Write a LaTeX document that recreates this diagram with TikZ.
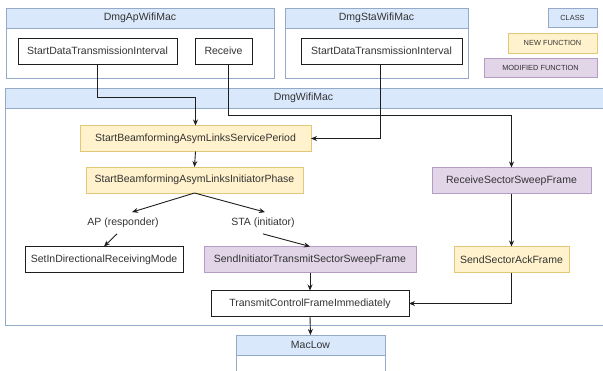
\documentclass[tikz,border=0pt]{standalone}
\usepackage{fontspec}
\setmainfont{Liberation Sans}
\usetikzlibrary{arrows.meta}
\definecolor{clsfill}{HTML}{DAE8FC}
\definecolor{clsline}{HTML}{94AAC8}
\definecolor{newfill}{HTML}{FFF2CC}
\definecolor{newline}{HTML}{E0C878}
\definecolor{modfill}{HTML}{E1D5E7}
\definecolor{modline}{HTML}{B59CC4}
\definecolor{txt}{HTML}{333333}
\definecolor{wire}{HTML}{1E1E1E}
\tikzset{
  base/.style={rectangle, inner sep=0pt, outer sep=0pt, text=txt, font=\fontsize{10.5}{12}\selectfont},
  container/.style={base, draw=clsline, fill=white, line width=0.8pt},
  header/.style={base, draw=clsline, fill=clsfill, line width=0.8pt},
  plainfn/.style={base, draw=wire, fill=white, line width=0.8pt, minimum height=26},
  newfn/.style={base, draw=newline, fill=newfill, line width=0.8pt, minimum height=26},
  modfn/.style={base, draw=modline, fill=modfill, line width=0.8pt, minimum height=26},
  legend/.style={base, line width=0.8pt, font=\fontsize{7.4}{9}\selectfont},
  lbl/.style={base, inner ysep=6pt},
  arr/.style={draw=wire, line width=0.9pt, -{Stealth[length=6pt,width=5pt]}},
  wirel/.style={draw=wire, line width=0.9pt}
}
\begin{document}
\begin{tikzpicture}[x=1pt, y=-1pt]
\useasboundingbox (0,0) rectangle (603,370);
\clip (0,0) rectangle (603,370);
\fill[white] (0,0) rectangle (603,370);
% containers
\node[container, minimum width=268, minimum height=70] (ap) at (140,43) {};
\node[header, minimum width=268, minimum height=20] (aph) at (140,18) {DmgApWifiMac};
\node[container, minimum width=183, minimum height=70] (sta) at (376.5,43) {};
\node[header, minimum width=183, minimum height=20] (stah) at (376.5,18) {DmgStaWifiMac};
\node[container, minimum width=607, minimum height=237] (wm) at (308.5,206.5) {};
\node[header, minimum width=607, minimum height=20] (wmh) at (308.5,98) {};
\node[base] (wmt) at (303.5,98) {DmgWifiMac};
\node[container, minimum width=149, minimum height=50] (ml) at (310.5,360) {};
\node[header, minimum width=149, minimum height=20] (mlh) at (310.5,345) {MacLow};
% legend
\node[legend, draw=clsline, fill=clsfill, minimum width=49, minimum height=19] (lc) at (572.5,17.5) {CLASS};
\node[legend, draw=newline, fill=newfill, minimum width=89, minimum height=20] (ln) at (552.5,43) {NEW FUNCTION};
\node[legend, draw=modline, fill=modfill, minimum width=113, minimum height=19] (lm) at (540.5,67.5) {MODIFIED FUNCTION};
% functions
\node[plainfn, minimum width=159] (apsdti) at (97.5,51) {StartDataTransmissionInterval};
\node[plainfn, minimum width=57] (recv) at (223.5,51) {Receive};
\node[plainfn, minimum width=161] (stasdti) at (381.5,51) {StartDataTransmissionInterval};
\node[newfn, minimum width=231] (sp) at (195.5,138.5) {StartBeamformingAsymLinksServicePeriod};
\node[newfn, minimum width=217] (ip) at (194.5,180) {StartBeamformingAsymLinksInitiatorPhase};
\node[modfn, minimum width=159] (rssf) at (511.5,180.5) {ReceiveSectorSweepFrame};
\node[lbl] (aplab) at (123,223) {AP (responder)};
\node[lbl] (stalab) at (263,223) {STA (initiator)};
\node[plainfn, minimum width=158] (sidrm) at (104,259.5) {SetInDirectionalReceivingMode};
\node[modfn, minimum width=212] (sitssf) at (310,259.5) {SendInitiatorTransmitSectorSweepFrame};
\node[newfn, minimum width=115] (ssaf) at (511.5,259.5) {SendSectorAckFrame};
\node[plainfn, minimum width=198] (tc) at (310,303.5) {TransmitControlFrameImmediately};
% connectors
\draw[arr] (apsdti.south) -- (apsdti.south |- 0,97) -| (sp.north);
\draw[arr] ([xshift=4.5pt]recv.south) -- ([xshift=4.5pt]recv.south |- 0,115) -| (rssf.north);
\draw[arr] ([xshift=-1.5pt]stasdti.south) |- (sp.east);
\draw[arr] (sp.south) -- (ip.north);
\draw[arr] (ip.south) -- ([xshift=9pt]aplab.north);
\draw[arr] (ip.south) -- ([xshift=2pt]stalab.north);
\draw[arr] ([xshift=-6pt]aplab.south) -- (sidrm.north);
\draw[arr] (stalab.south) -- (sitssf.north);
\draw[arr] (rssf.south) -- (ssaf.north);
\draw[arr] (sitssf.south) -- (tc.north);
\draw[arr] (ssaf.south) |- (tc.east);
\draw[arr] (tc.south) -- (mlh.north);
\end{tikzpicture}
\end{document}
